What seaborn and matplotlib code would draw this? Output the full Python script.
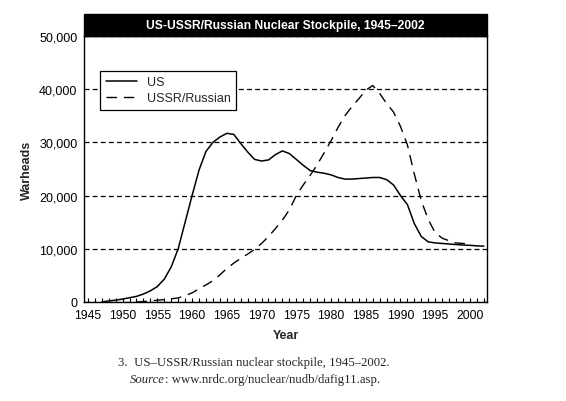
import numpy as np
import pandas as pd
import seaborn as sns
import matplotlib.pyplot as plt
from matplotlib.patches import Rectangle
from matplotlib.ticker import MultipleLocator, StrMethodFormatter

# values
us_years = list(range(1947, 2003))
us_warheads = [0, 200, 350, 550, 800, 1050, 1500, 2100, 2900, 4300,
               6600, 10000, 15000, 20000, 24800, 28300, 30000, 31000, 31700, 31500,
               29800, 28200, 26800, 26500, 26700, 27700, 28400, 27900, 26800, 25700,
               24700, 24400, 24200, 23900, 23400, 23100, 23100, 23200, 23300, 23400,
               23400, 23000, 22000, 20000, 18300, 14700, 12300, 11300, 11100, 11000,
               10900, 10800, 10700, 10650, 10550, 10500]

ussr_years = list(range(1952, 2001))
ussr_warheads = [0, 80, 200, 330, 450, 600, 750, 1200, 1700, 2500,
                 3200, 4000, 5100, 6300, 7300, 8200, 9000, 9900, 11000, 12300,
                 13800, 15400, 17300, 20000, 22000, 23800, 25800, 28000, 30300, 32800,
                 35000, 36700, 38200, 39800, 40700, 39200, 37300, 35700, 33000, 29500,
                 24000, 19000, 15500, 13000, 12000, 11500, 11100, 11000, 10900]

x_ticks = list(range(1945, 2001, 5))
y_ticks = [0, 10000, 20000, 30000, 40000, 50000]

us = pd.DataFrame({"Year": us_years, "Warheads": us_warheads})
ussr = pd.DataFrame({"Year": ussr_years, "Warheads": ussr_warheads})

sns.set_style("white")
plt.rcParams["font.family"] = ["Liberation Sans", "DejaVu Sans"]

fig = plt.figure(figsize=(5.66, 4.02), dpi=100)
ax = fig.add_axes([0.1491, 0.2463, 0.7113, 0.6617])

sns.lineplot(data=us, x="Year", y="Warheads", ax=ax, color="black",
             linewidth=1.1, label="US")
sns.lineplot(data=ussr, x="Year", y="Warheads", ax=ax, color="black",
             linewidth=1.0, label="USSR/Russian")
ax.lines[1].set_dashes((7.5, 5))

ax.set_xlim(1944.5, 2002.45)
ax.set_ylim(0, 50000)
ax.set_xticks(x_ticks)
ax.xaxis.set_minor_locator(MultipleLocator(1))
ax.set_yticks(y_ticks)
ax.yaxis.set_major_formatter(StrMethodFormatter("{x:,.0f}"))
ax.tick_params(axis="x", which="both", direction="in", length=3, width=0.8,
               bottom=True, labelsize=8.7, pad=5, colors="black")
ax.tick_params(axis="y", length=0, labelsize=9, pad=5, colors="black")

ax.grid(axis="y", color="black", linestyle=(0, (4, 2.5)), linewidth=0.9)
ax.grid(axis="x", visible=False)
for s in ax.spines.values():
    s.set_color("black")
    s.set_linewidth(1.0)

ax.set_xlabel("Year", fontsize=9, fontweight="bold")
ax.set_ylabel("Warheads", fontsize=9, fontweight="bold")
ax.xaxis.set_label_coords(0.5, -0.1)
ax.yaxis.set_label_coords(-0.128, 0.5)

# black title bar
ax.add_patch(Rectangle((0, 1), 1, 0.083, transform=ax.transAxes,
                       facecolor="black", edgecolor="black", clip_on=False))
ax.text(0.5, 1.0415, "US-USSR/Russian Nuclear Stockpile, 1945\u20132002",
        transform=ax.transAxes, ha="center", va="center", color="white",
        fontsize=8.7, fontweight="bold")

leg = ax.legend(loc="upper left", bbox_to_anchor=(0.039, 0.87),
                fontsize=9, frameon=True, fancybox=False, handlelength=2.5,
                handletextpad=0.8, borderpad=0.45, labelspacing=0.3,
                borderaxespad=0)
leg.get_frame().set_edgecolor("black")
leg.get_frame().set_linewidth(0.9)
leg.get_frame().set_alpha(1)

# caption
fig.text(254 / 566, 1 - 363 / 402,
         "3.  US\u2013USSR/Russian nuclear stockpile, 1945\u20132002.",
         ha="center", va="center", fontsize=9.2, family="Liberation Serif")
fig.text(165 / 566, 1 - 380 / 402, "Source", ha="right", va="center",
         fontsize=9.2, family="Liberation Serif", style="italic")
fig.text(165 / 566, 1 - 380 / 402, ": www.nrdc.org/nuclear/nudb/dafig11.asp.",
         ha="left", va="center", fontsize=9.2, family="Liberation Serif")

fig.savefig("out.png", dpi=100)
